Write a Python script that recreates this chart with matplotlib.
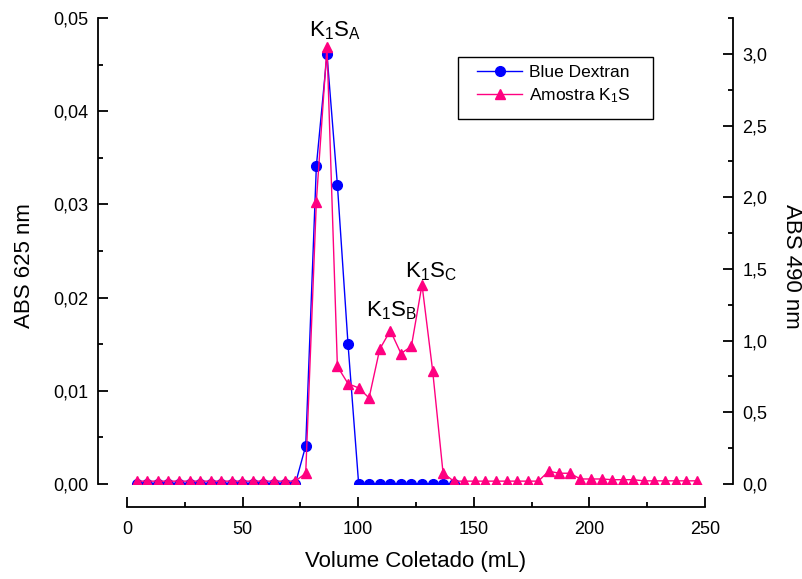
import matplotlib
matplotlib.use('Agg')
import matplotlib.pyplot as plt
from matplotlib.ticker import MultipleLocator, FuncFormatter
from matplotlib.patches import Rectangle

plt.rcParams['font.family'] = ['Liberation Sans', 'DejaVu Sans']
plt.rcParams['mathtext.default'] = 'regular'

# volume of each collected fraction (mL)
volume = [4.2, 8.8, 13.3, 17.9, 22.5, 27.1, 31.6, 36.2, 40.8, 45.3,
          49.9, 54.5, 59.0, 63.6, 68.2, 72.8, 77.3, 81.9, 86.5, 91.0,
          95.6, 100.2, 104.7, 109.3, 113.9, 118.5, 123.0, 127.6, 132.2, 136.7,
          141.3, 145.9, 150.4, 155.0, 159.6, 164.2, 168.7, 173.3, 177.9, 182.4,
          187.0, 191.6, 196.1, 200.7, 205.3, 209.9, 214.4, 219.0, 223.6, 228.1,
          232.7, 237.3, 241.8, 246.4]

# Blue Dextran, ABS 625 nm (first 31 fractions)
blue_dextran = [0.0, 0.0, 0.0, 0.0, 0.0, 0.0, 0.0, 0.0, 0.0, 0.0,
                0.0, 0.0, 0.0, 0.0, 0.0, 0.0, 0.0041, 0.0341, 0.0461, 0.0321,
                0.0150, 0.0, 0.0, 0.0, 0.0, 0.0, 0.0, 0.0, 0.0, 0.0,
                0.0]

# Amostra K1S, ABS 490 nm
amostra = [0.02, 0.02, 0.02, 0.02, 0.02, 0.02, 0.02, 0.02, 0.02, 0.02,
           0.02, 0.02, 0.02, 0.02, 0.02, 0.02, 0.075, 1.97, 3.05, 0.82,
           0.70, 0.67, 0.60, 0.94, 1.07, 0.91, 0.96, 1.39, 0.79, 0.077,
           0.02, 0.02, 0.02, 0.02, 0.02, 0.02, 0.02, 0.02, 0.02, 0.089,
           0.075, 0.075, 0.035, 0.035, 0.035, 0.03, 0.03, 0.03, 0.022, 0.022,
           0.022, 0.022, 0.022, 0.022]

peak_labels = ['K$_1$S$_A$', 'K$_1$S$_B$', 'K$_1$S$_C$']
peak_x = [90.0, 114.4, 131.5]
peak_y = [3.08, 1.13, 1.40]

blue = '#0000FF'
pink = '#FF0080'

fig = plt.figure(figsize=(8.02, 5.79), dpi=100)
ax = fig.add_axes([127/802, 1 - 484/579, 578/802, 466/579])
ax2 = ax.twinx()

l1, = ax.plot(volume[:len(blue_dextran)], blue_dextran, color=blue, lw=1.0,
              marker='o', ms=7.0, mec=blue, mfc=blue, label='Blue Dextran')
l2, = ax2.plot(volume, amostra, color=pink, lw=1.0, marker='^', ms=7.5,
               mec=pink, mfc=pink, label='Amostra K$_1$S')

ax.set_xlim(0, 250)
ax.set_ylim(0, 0.05)
ax2.set_ylim(0, 3.25)

# spines moved away from the data area
for s in ['top', 'right']:
    ax.spines[s].set_visible(False)
for s in ['top', 'left', 'bottom']:
    ax2.spines[s].set_visible(False)
ax.spines['left'].set_position(('outward', 21))
ax.spines['bottom'].set_position(('outward', 16.5))
ax2.spines['right'].set_position(('outward', 20))
for sp in [ax.spines['left'], ax.spines['bottom'], ax2.spines['right']]:
    sp.set_linewidth(1.3)

ax.xaxis.set_major_locator(MultipleLocator(50))
ax.xaxis.set_minor_locator(MultipleLocator(25))
ax.yaxis.set_major_locator(MultipleLocator(0.01))
ax.yaxis.set_minor_locator(MultipleLocator(0.005))
ax2.yaxis.set_major_locator(MultipleLocator(0.5))
ax2.yaxis.set_minor_locator(MultipleLocator(0.25))

ax.yaxis.set_major_formatter(FuncFormatter(lambda v, p: f'{v:.2f}'.replace('.', ',')))
ax2.yaxis.set_major_formatter(FuncFormatter(lambda v, p: f'{v:.1f}'.replace('.', ',')))

ax.tick_params(axis='both', which='both', direction='in', width=1.3)
ax.tick_params(axis='both', which='major', length=7.2, labelsize=13)
ax.tick_params(axis='both', which='minor', length=3.6)
ax.tick_params(axis='x', which='major', pad=10)
ax.tick_params(axis='y', which='major', pad=7)
ax2.tick_params(axis='y', which='both', direction='in', width=1.3)
ax2.tick_params(axis='y', which='major', length=7.2, labelsize=13, pad=7)
ax2.tick_params(axis='y', which='minor', length=3.6)

ax.set_xlabel('Volume Coletado (mL)', fontsize=16, va='center')
ax.xaxis.set_label_coords(0.5, -0.167)
ax.set_ylabel('ABS 625 nm', fontsize=16, va='center', ha='center')
ax.yaxis.set_label_coords(-0.178, 0.468)
ax2.set_ylabel('ABS 490 nm', fontsize=16, rotation=-90, va='center', ha='center')
ax2.yaxis.set_label_coords(1.15, 0.468)

for lab, px, py in zip(peak_labels, peak_x, peak_y):
    ax2.text(px, py, lab, fontsize=16, ha='center', va='bottom')

# legend drawn without its own frame, box added around it
leg = ax2.legend([l1, l2], ['Blue Dextran', 'Amostra K$_1$S'],
                 loc='upper left', bbox_to_anchor=(0.6055, 0.899),
                 fontsize=12.5, frameon=False,
                 handlelength=2.6, handletextpad=0.4, borderpad=0,
                 labelspacing=0.35, borderaxespad=0)
fig.patches.append(Rectangle((458/802, 1 - 119/579), 195/802, 62/579,
                             transform=fig.transFigure, fill=False,
                             ec='black', lw=1.0))

fig.savefig('out.png', dpi=100)
